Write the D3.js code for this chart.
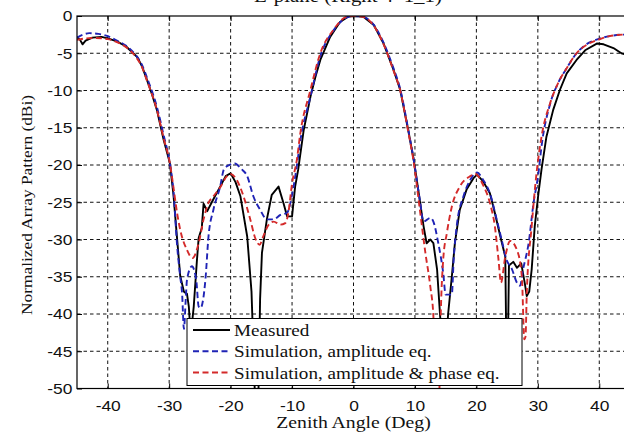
<!DOCTYPE html>
<html>
<head>
<meta charset="utf-8">
<script src="https://cdn.jsdelivr.net/npm/d3@7"></script>
<style>
  body { margin: 0; background: #fff; }
  svg { display: block; }
</style>
</head>
<body>
<div id="chart"></div>
<script>
// values (angle in deg, pattern in dB)
const measAngle = [-45, -44.5, -44.1, -43.6, -42.5, -41, -40, -38.5, -37, -35.2, -34.4, -33.6, -32.8, -32.0, -30.9, -29.9, -29.3, -28.8, -28.2, -27.6, -27.1, -26.8, -26.5, -26.0, -25.5, -25.2, -24.7, -24.4, -23.8, -23.0, -21.7, -20.8, -20.0, -19.2, -18.4, -17.3, -16.6, -16.0, -15.5, -15.2, -14.9, -14.1, -13.3, -12.2, -11.4, -10.8, -10.0, -9.5, -9.0, -8.1, -7.0, -6.2, -5.4, -3.8, -2.2, -0.8, 0.5, 1.6, 3.3, 4.9, 6.5, 7.6, 8.9, 9.8, 10.3, 11.4, 11.9, 12.5, 13.0, 13.6, 14.1, 14.6, 15.0, 15.4, 16.0, 16.5, 17.3, 18.4, 19.5, 20.1, 21.1, 22.2, 23.0, 23.9, 24.7, 24.9, 25.1, 25.3, 26.0, 26.6, 27.3, 27.9, 28.2, 28.6, 29.0, 29.5, 30.1, 30.6, 31.4, 32.5, 33.6, 34.7, 36.3, 37.7, 39.6, 40.7, 42.3, 43.6, 45];
const measDb = [-2.8, -3.2, -3.8, -3.3, -2.9, -2.8, -3.0, -3.4, -4.1, -5.5, -6.8, -8.6, -10.5, -12.6, -16.6, -19.7, -24.0, -29, -34.9, -37, -37.3, -39, -43, -39, -33, -29.8, -28.5, -25.2, -26.2, -24.9, -22.9, -21.5, -21.1, -22.3, -24.2, -29.6, -37, -52, -52, -38, -31.8, -27.3, -24.0, -22.9, -25.1, -26.9, -26.9, -22.9, -20.6, -15.3, -10.8, -8.2, -5.9, -2.8, -0.8, -0.05, 0, -0.1, -1.2, -3.7, -7.2, -9.9, -15.3, -19.3, -22, -28.2, -30.5, -30, -30.5, -34, -40.3, -45, -45, -40, -35, -30.5, -26, -23.3, -21.8, -21.3, -22.2, -23.8, -26.4, -29.6, -32.3, -46, -46, -33.5, -33, -33.8, -33.2, -36, -37.6, -37, -34, -28.2, -23.8, -20.6, -16.2, -12.6, -9.9, -7.7, -5.9, -4.6, -3.7, -3.8, -4.3, -5.0, -5.3];

const ampAngle = [-45, -44, -43, -41.5, -40, -38.5, -37, -35.5, -34.4, -33.6, -32.0, -30.9, -29.9, -29.3, -28.7, -28.2, -27.9, -27.6, -27.3, -27.1, -26.3, -25.6, -25.2, -24.9, -24.1, -23.6, -22.8, -21.7, -21.1, -20.2, -19.3, -18.3, -17.3, -16.3, -15.2, -14.1, -13.0, -11.9, -10.8, -10.0, -9.2, -8.7, -7.0, -5.4, -3.3, -1.1, 0, 1.5, 3.3, 4.9, 6.5, 7.6, 8.9, 9.8, 10.8, 11.4, 12.5, 13.0, 13.8, 14.6, 15.0, 16.0, 16.3, 16.8, 17.9, 19.0, 20.1, 21.1, 22.2, 23.3, 24.1, 24.9, 25.8, 26.6, 27.1, 27.6, 28.5, 29.3, 30.1, 30.6, 32.0, 33.3, 34.7, 36.3, 37.9, 39.8, 41.7, 43.9, 45];
const ampDb = [-2.9, -2.5, -2.3, -2.4, -2.7, -3.3, -4.0, -5.2, -6.6, -8.3, -12.2, -16.0, -19.7, -23.5, -30.9, -35, -37.2, -42, -38, -35.4, -33.6, -35.4, -39, -39.2, -35.4, -29.6, -26, -22.9, -20.6, -20.0, -19.8, -20.5, -21.5, -24.2, -26, -27.3, -27.3, -26.7, -26.4, -24.0, -20.0, -17, -10.8, -5.4, -2.0, -0.2, 0, -0.1, -1.2, -3.6, -7.0, -9.8, -15.2, -19.3, -24.7, -27.6, -27.1, -27.6, -30.5, -34.5, -37.4, -37.4, -32.7, -28.2, -24.2, -22, -21.0, -22, -23.8, -27.3, -30, -32.7, -34, -35.8, -36.2, -34, -30.5, -25.1, -21.1, -17.5, -11.8, -9.0, -7.0, -5.0, -3.8, -3.1, -2.7, -2.5, -2.5];

const phAngle = [-45, -43.5, -42, -40, -38.5, -37, -35.5, -34.4, -33.6, -32.0, -30.9, -29.9, -29.3, -28.7, -28.2, -27.1, -26.2, -25.2, -24.4, -23.6, -22.8, -21.7, -20.6, -20.0, -19.0, -17.9, -16.8, -16.0, -15.3, -14.6, -13.8, -13.0, -11.9, -11.1, -10.6, -10.0, -9.2, -8.7, -7.0, -5.4, -3.3, -1.1, 0, 1.5, 3.3, 4.9, 6.5, 7.6, 8.9, 9.8, 10.8, 11.7, 12.5, 13.0, 13.5, 13.9, 14.2, 14.6, 15.2, 16.0, 17.3, 19.0, 19.8, 21.1, 22.2, 23.0, 23.6, 24.0, 24.7, 25.5, 26.6, 27.4, 27.8, 28.0, 28.2, 29.0, 29.8, 30.6, 32.0, 33.3, 34.7, 36.3, 37.9, 39.8, 41.7, 43.9, 45];
const phDb = [-3.2, -3.0, -2.95, -3.1, -3.5, -4.2, -5.4, -6.9, -8.7, -12.6, -16.4, -19.7, -23.0, -26.5, -28.7, -31.4, -32.5, -30.5, -27.3, -25.1, -24.2, -23.0, -21.5, -21.2, -22, -24.2, -27.3, -29.8, -30.7, -29.4, -28, -27.6, -28, -27.8, -26.4, -22.5, -19.2, -16.0, -9.9, -5.0, -1.9, -0.1, 0, -0.1, -1.3, -3.8, -7.3, -10.0, -15.5, -19.6, -26, -31.8, -36.3, -40.3, -52, -52, -40, -32.7, -29.1, -25.6, -22.9, -21.5, -21.2, -22.7, -25.1, -28.2, -32.7, -35.8, -32.3, -30.2, -31.4, -35, -43.4, -43, -37.2, -28.2, -21, -16.2, -11.7, -9.0, -7.0, -5.0, -3.9, -3.2, -2.7, -2.5, -2.5];

const xTicks = [-40, -30, -20, -10, 0, 10, 20, 30, 40];
const yTicks = [0, -5, -10, -15, -20, -25, -30, -35, -40, -45, -50];
const seriesNames = ["Measured", "Simulation, amplitude eq.", "Simulation, amplitude & phase eq."];

const width = 624, height = 432;
const margin = { top: 16, right: -6, bottom: 43.5, left: 77 };
const w = width - margin.left - margin.right,
    h = height - margin.top - margin.bottom;

const serif = "'Liberation Serif', 'Times New Roman', serif";
const sans = "'Liberation Sans', Arial, sans-serif";
const stretch = 1.16; // text in the picture is a bit wide

const svg = d3.select("#chart")
    .append("svg")
    .attr("width", width)
    .attr("height", height);

const chart = svg.append("g")
    .attr("transform", `translate(${margin.left},${margin.top})`);

const x = d3.scaleLinear().domain([-45, 45]).range([0, w]);
const y = d3.scaleLinear().domain([-50, 0]).range([h, 0]);

// grid
chart.append("g")
    .selectAll("line")
    .data(xTicks)
    .join("line")
    .attr("x1", d => x(d)).attr("x2", d => x(d))
    .attr("y1", 0).attr("y2", h);
chart.append("g")
    .selectAll("line")
    .data(yTicks.slice(1, -1))
    .join("line")
    .attr("x1", 0).attr("x2", w)
    .attr("y1", d => y(d)).attr("y2", d => y(d));
chart.selectAll("g line")
    .attr("stroke", "#111")
    .attr("stroke-width", 1)
    .attr("stroke-dasharray", "3.5,3");

// axes, matlab style ticks pointing inward, plain hyphen for negatives
const fmt = d => String(d);
chart.append("g")
    .attr("transform", `translate(0,${h})`)
    .call(d3.axisBottom(x).tickValues(xTicks).tickFormat(fmt).tickSizeInner(-5).tickSizeOuter(0).tickPadding(12));
chart.append("g")
    .call(d3.axisTop(x).tickValues(xTicks).tickSizeInner(-5).tickSizeOuter(0).tickFormat(""));
chart.append("g")
    .call(d3.axisLeft(y).tickValues(yTicks).tickFormat(fmt).tickSizeInner(-5).tickSizeOuter(0).tickPadding(4));

chart.selectAll(".domain").remove();
chart.selectAll(".tick line").attr("stroke", "#000");
chart.selectAll(".tick text")
    .attr("fill", "#111")
    .style("font-family", sans)
    .style("font-size", "15px")
    .attr("transform", `scale(${stretch},1)`);

// curves
chart.append("clipPath").attr("id", "plotClip")
    .append("rect").attr("width", w).attr("height", h);

const series = [
    { name: seriesNames[0], pts: d3.zip(measAngle, measDb), color: "#000", dash: null, curve: d3.curveLinear },
    { name: seriesNames[1], pts: d3.zip(ampAngle, ampDb), color: "#1f23b5", dash: "6,3.5", curve: d3.curveMonotoneX },
    { name: seriesNames[2], pts: d3.zip(phAngle, phDb), color: "#d42a2a", dash: "6,3.5", curve: d3.curveMonotoneX }
];

const lines = chart.append("g").attr("clip-path", "url(#plotClip)");
series.forEach(s => {
    lines.append("path")
        .datum(s.pts)
        .attr("fill", "none")
        .attr("stroke", s.color)
        .attr("stroke-width", 1.9)
        .attr("stroke-dasharray", s.dash)
        .attr("stroke-linejoin", "round")
        .attr("d", d3.line().x(d => x(d[0])).y(d => y(d[1])).curve(s.curve));
});

// frame
chart.append("rect")
    .attr("width", w).attr("height", h)
    .attr("fill", "none")
    .attr("stroke", "#000")
    .attr("stroke-width", 1.2);

// legend
const legend = svg.append("g").attr("transform", "translate(187,318.5)");
legend.append("rect")
    .attr("width", 335).attr("height", 67)
    .attr("fill", "#fff")
    .attr("stroke", "#000")
    .attr("stroke-width", 1);

const rows = legend.selectAll(".row")
    .data(series)
    .join("g")
    .attr("class", "row")
    .attr("transform", (d, i) => `translate(0,${11.5 + i * 21.3})`);
rows.append("line")
    .attr("x1", 6).attr("x2", 43)
    .attr("stroke", d => d.color)
    .attr("stroke-width", 2)
    .attr("stroke-dasharray", d => d.dash);
rows.append("text")
    .attr("transform", `translate(47,0) scale(${stretch},1)`)
    .attr("dy", "0.36em")
    .style("font-family", serif)
    .style("font-size", "16.5px")
    .attr("fill", "#111")
    .text(d => d.name);

// labels
svg.append("text")
    .attr("transform", `translate(${margin.left + x(0)},428) scale(${stretch},1)`)
    .attr("text-anchor", "middle")
    .style("font-family", serif)
    .style("font-size", "17px")
    .attr("fill", "#111")
    .text("Zenith Angle (Deg)");

svg.append("text")
    .attr("transform", `translate(31.5,205) rotate(-90) scale(1.12,1)`)
    .attr("text-anchor", "middle")
    .style("font-family", serif)
    .style("font-size", "15.5px")
    .attr("fill", "#111")
    .text("Normalized Array Pattern (dBi)");

// title sits mostly above the picture, as in the reference
svg.append("text")
    .attr("transform", `translate(348,2) scale(${stretch},1)`)
    .attr("text-anchor", "middle")
    .style("font-family", serif)
    .style("font-size", "18px")
    .attr("fill", "#111")
    .text("E-plane (Right 4*1_1)");
</script>
</body>
</html>
